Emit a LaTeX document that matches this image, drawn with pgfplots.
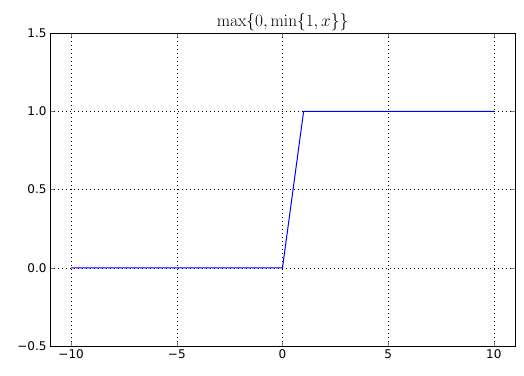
\documentclass[border=0pt]{standalone}
\usepackage{pgfplots}
\pgfplotsset{compat=1.18}
\usepackage[no-math]{fontspec}
\setmainfont{DejaVu Sans}
\begin{document}
\begin{tikzpicture}
\begin{axis}[
  scale only axis, width=465pt, height=313pt,
  xmin=-11, xmax=11, ymin=-0.5, ymax=1.5,
  xtick={-10,-5,0,5,10}, ytick={-0.5,0,0.5,1,1.5},
  xticklabels={−10,−5,0,5,10},
  yticklabels={−0.5,0.0,0.5,1.0,1.5},
  tick label style={font=\fontsize{12}{14}\selectfont},
  tick align=inside, major tick length=4pt,
  xtick pos=both, ytick pos=both,
  grid=major, grid style={black, line width=0.5pt, dash pattern=on 1pt off 3pt},
  axis line style={black, line width=0.8pt},
  title={\LARGE$\max\{0,\min\{1,x\}\}$},
  title style={yshift=-7pt},
]
\addplot[blue, line width=1pt] coordinates {(-10,0) (0,0) (1,1) (10,1)};
\end{axis}
\path ([xshift=-50pt,yshift=-29pt]current axis.south west) rectangle ([xshift=9pt,yshift=33pt]current axis.north east);
\end{tikzpicture}
\end{document}
